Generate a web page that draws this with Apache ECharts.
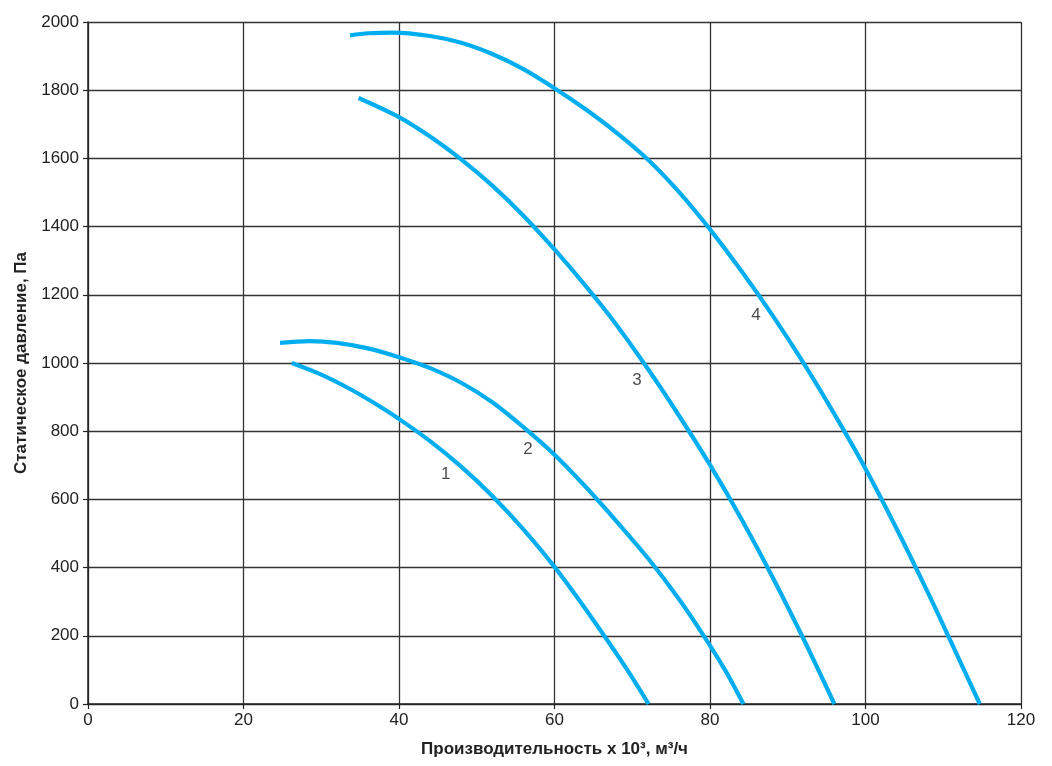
<!DOCTYPE html>
<html>
<head>
<meta charset="utf-8">
<script src="https://cdn.jsdelivr.net/npm/echarts@6/dist/echarts.min.js"></script>
<style>
html,body{margin:0;padding:0;background:#fff;}
#chart{width:1052px;height:766px;}
</style>
</head>
<body>
<div id="chart"></div>
<script>
// Curve data: [flow x10^3 m3/h, static pressure Pa]
const curve1 = [[26.2,1000],[30,966],[34,920],[38,866],[40,836],[44,771],[48,696],[52,610],[56,512],[60,402],[63,310],[66.3,203],[69.3,102],[72.1,0]];
const curve2 = [[24.7,1059],[28.5,1064],[32,1059],[36,1043],[40,1017],[44,985],[48,942],[52,885],[56,812],[60,731],[64,637],[68,535],[72,428],[76,308],[79.2,200],[82,97],[84.3,0]];
const curve3 = [[34.8,1777],[40,1721],[44,1664],[48,1597],[52,1520],[56,1432],[60,1333],[64,1226],[68,1111],[72,983],[76,846],[80,701],[84,544],[88,374],[92,192],[96,0]];
const curve4 = [[33.7,1961],[36,1967],[39.2,1969],[44,1959],[48,1939],[52,1906],[56,1862],[60,1806],[64,1744],[68,1675],[72,1597],[76,1502],[80,1392],[84,1271],[88,1141],[92,1001],[96,850],[100,690],[104,514],[108,328],[111,182],[114.7,0]];
const curveLabels = [[46.0,674,'1'],[56.6,748,'2'],[70.6,950,'3'],[85.9,1141,'4']];
const xTicks = [0,20,40,60,80,100,120];
const yTicks = [0,200,400,600,800,1000,1200,1400,1600,1800,2000];

const lineColor = '#00aeef';
const font = 'Liberation Sans, Arial, sans-serif';

function lineSeries(data){
  return {type:'line', data:data, smooth:0.3, showSymbol:false, symbol:'none',
    lineStyle:{color:lineColor, width:4.2}, silent:true, z:3};
}

const chart = echarts.init(document.getElementById('chart'), null, {renderer:'canvas'});
chart.setOption({
  animation:false,
  backgroundColor:'#ffffff',
  grid:{left:88, right:31, top:22, bottom:62},
  xAxis:{
    type:'value', min:xTicks[0], max:xTicks[xTicks.length-1], interval:20,
    name:'Производительность х 10³, м³/ч', nameLocation:'middle', nameGap:37,
    nameTextStyle:{fontFamily:font, fontWeight:'bold', fontSize:17, color:'#222'},
    axisLine:{show:true, onZero:false, lineStyle:{color:'#222', width:1.5}},
    axisTick:{show:true, length:5, lineStyle:{color:'#222', width:1.2}},
    axisLabel:{fontFamily:font, fontSize:17, color:'#222', margin:8, formatter:v=>String(v)},
    splitLine:{show:true, lineStyle:{color:'#333', width:1.3}}
  },
  yAxis:{
    type:'value', min:yTicks[0], max:yTicks[yTicks.length-1], interval:200,
    name:'Статическое давление, Па', nameLocation:'middle', nameGap:55, nameRotate:90,
    nameTextStyle:{fontFamily:font, fontWeight:'bold', fontSize:17, color:'#222'},
    axisLine:{show:true, onZero:false, lineStyle:{color:'#222', width:1.5}},
    axisTick:{show:true, length:5, lineStyle:{color:'#222', width:1.2}},
    axisLabel:{fontFamily:font, fontSize:17, color:'#222', margin:9, formatter:v=>String(v)},
    splitLine:{show:true, lineStyle:{color:'#333', width:1.3}}
  },
  series:[
    lineSeries(curve1), lineSeries(curve2), lineSeries(curve3), lineSeries(curve4),
    {type:'scatter', symbolSize:0, silent:true, z:4,
     data:curveLabels.map(d=>({value:[d[0],d[1]], name:d[2]})),
     label:{show:true, position:'inside', formatter:p=>p.name, fontFamily:font, fontSize:17, color:'#1a1a1a'}}
  ]
});
</script>
</body>
</html>
